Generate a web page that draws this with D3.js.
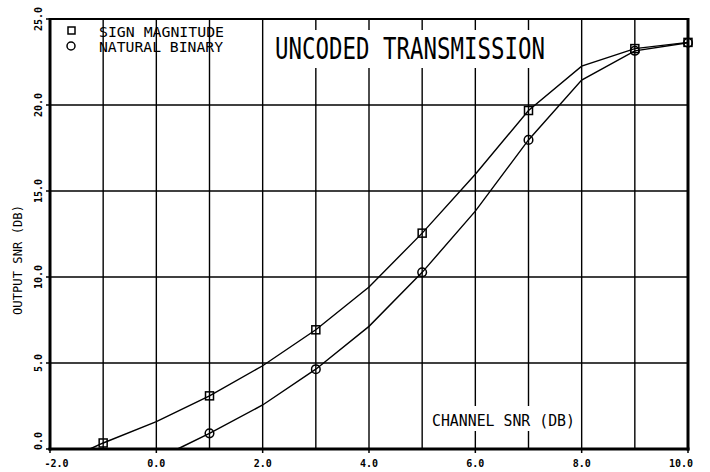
<!DOCTYPE html>
<html lang="en">
<head>
<meta charset="utf-8" />
<title>uncoded transmission</title>
<style>
  * {margin:0; padding:0;}
  body {background:#fff;}
  text {font-family:"DejaVu Sans Mono", monospace; fill:#000;}
</style>
</head>
<body>
<div id="viz"></div>
<script src="https://cdn.jsdelivr.net/npm/d3@7"></script>
<script>
// tick labels and grid positions
var xTicks = [-2, 0, 2, 4, 6, 8, 10];
var yTicks = [0, 5, 10, 15, 20, 25];
var xGrid = [-1, 0, 1, 2, 3, 4, 5, 6, 7, 8, 9];
var yGrid = [5, 10, 15, 20];

// sign magnitude curve (squares)
var signX = [-1.25, -1, 0, 1, 2, 3, 4, 5, 6, 7, 8, 9, 10];
var signY = [0, 0.35, 1.59, 3.09, 4.84, 6.93, 9.42, 12.55, 15.97, 19.68, 22.26, 23.28, 23.64];
var signMarkX = [-1, 1, 3, 5, 7, 9, 10];

// natural binary curve (circles)
var natX = [0.4, 1, 2, 3, 4, 5, 6, 7, 8, 9, 10];
var natY = [0, 0.91, 2.56, 4.64, 7.13, 10.27, 13.83, 17.97, 21.45, 23.15, 23.62];
var natMarkX = [1, 3, 5, 7, 9, 10];

var w = 710, h = 472;
var svg = d3.select("#viz").append("svg").attr("width", w).attr("height", h);

var x = d3.scaleLinear().domain([-2, 10]).range([50, 688]);
var y = d3.scaleLinear().domain([0, 25]).range([449, 19]);

// grid
svg.selectAll(".vg").data(xGrid).enter().append("line")
    .attr("x1", function(d){return x(d)}).attr("x2", function(d){return x(d)})
    .attr("y1", y(25)).attr("y2", y(0))
    .style("stroke", "#000").style("stroke-width", 1.4);
svg.selectAll(".hg").data(yGrid).enter().append("line")
    .attr("x1", x(-2)).attr("x2", x(10))
    .attr("y1", function(d){return y(d)}).attr("y2", function(d){return y(d)})
    .style("stroke", "#000").style("stroke-width", 1.4);

// white boxes behind title and x label (they blank the grid)
svg.append("rect").attr("x", 266).attr("y", 30).attr("width", 294).attr("height", 38).style("fill", "#fff");
svg.append("rect").attr("x", 425).attr("y", 406).attr("width", 152).attr("height", 25).style("fill", "#fff");

// curves
var line = d3.line().x(function(d){return x(d[0])}).y(function(d){return y(d[1])});
function pairs(xs, ys){ return xs.map(function(v, i){return [v, ys[i]];}); }
var signData = pairs(signX, signY), natData = pairs(natX, natY);
[signData, natData].forEach(function(dat){
    svg.append("path").attr("d", line(dat))
        .style("fill", "none").style("stroke", "#000").style("stroke-width", 1.4);
});

function yAt(dat, xv){ return dat.filter(function(p){return p[0] === xv;})[0][1]; }

svg.selectAll(".sq").data(signMarkX).enter().append("rect")
    .attr("x", function(d){return x(d) - 4}).attr("y", function(d){return y(yAt(signData, d)) - 4})
    .attr("width", 8).attr("height", 8)
    .style("fill", "none").style("stroke", "#000").style("stroke-width", 1.5);
svg.selectAll(".ci").data(natMarkX).enter().append("circle")
    .attr("cx", function(d){return x(d)}).attr("cy", function(d){return y(yAt(natData, d))})
    .attr("r", 4.3)
    .style("fill", "none").style("stroke", "#000").style("stroke-width", 1.5);

// frame
svg.append("line").attr("x1", x(-2)).attr("x2", x(10)).attr("y1", y(25)).attr("y2", y(25))
    .style("stroke", "#000").style("stroke-width", 2);
svg.append("line").attr("x1", x(-2)).attr("x2", x(-2)).attr("y1", y(25) - 1).attr("y2", y(0) + 1.5)
    .style("stroke", "#000").style("stroke-width", 3);
svg.append("line").attr("x1", x(10)).attr("x2", x(10)).attr("y1", y(25) - 1).attr("y2", y(0) + 1.5)
    .style("stroke", "#000").style("stroke-width", 3);
svg.append("line").attr("x1", x(-2) - 1.5).attr("x2", x(10) + 1.5).attr("y1", y(0)).attr("y2", y(0))
    .style("stroke", "#000").style("stroke-width", 3);

// axis ticks
svg.selectAll(".xt").data(xTicks).enter().append("line")
    .attr("x1", function(d){return x(d)}).attr("x2", function(d){return x(d)})
    .attr("y1", y(0)).attr("y2", y(0) + 4)
    .style("stroke", "#000").style("stroke-width", 1.5);
svg.selectAll(".yt").data(yTicks).enter().append("line")
    .attr("x1", x(-2) - 4).attr("x2", x(-2))
    .attr("y1", function(d){return y(d)}).attr("y2", function(d){return y(d)})
    .style("stroke", "#000").style("stroke-width", 1.5);

// tick labels
svg.selectAll(".xl").data(xTicks).enter().append("text")
    .attr("x", function(d){return x(d)}).attr("y", 467)
    .attr("dx", function(d, i){return i === 0 ? 6.5 : (i === xTicks.length - 1 ? -7 : 0)})
    .attr("text-anchor", "middle")
    .style("font-size", "10px").style("font-weight", "bold")
    .text(function(d){return d.toFixed(1)});
svg.selectAll(".yl").data(yTicks).enter().append("text")
    .attr("transform", function(d, i){
        var yy = y(d) - (i === 0 ? 8 : 0);
        return "translate(42," + yy + ") rotate(-90)";})
    .attr("text-anchor", "middle")
    .style("font-size", "10px").style("font-weight", "bold")
    .text(function(d){return d.toFixed(1)});

// axis titles
svg.append("text").attr("transform", "translate(22,260) rotate(-90)")
    .attr("text-anchor", "middle").attr("textLength", 110).attr("lengthAdjust", "spacingAndGlyphs")
    .style("font-size", "12px").text("OUTPUT SNR (DB)");
svg.append("text").attr("x", 432).attr("y", 426)
    .attr("textLength", 143).attr("lengthAdjust", "spacingAndGlyphs")
    .style("font-size", "15px").text("CHANNEL SNR (DB)");

// title
svg.append("text").attr("x", 275).attr("y", 59)
    .attr("textLength", 270).attr("lengthAdjust", "spacingAndGlyphs")
    .style("font-size", "30px").text("UNCODED TRANSMISSION");

// legend
svg.append("rect").attr("x", 68).attr("y", 27).attr("width", 7).attr("height", 7)
    .style("fill", "none").style("stroke", "#000").style("stroke-width", 1.5);
svg.append("circle").attr("cx", 71).attr("cy", 46).attr("r", 4)
    .style("fill", "none").style("stroke", "#000").style("stroke-width", 1.5);
svg.append("text").attr("x", 99).attr("y", 37)
    .attr("textLength", 125).attr("lengthAdjust", "spacingAndGlyphs")
    .style("font-size", "13.5px").text("SIGN MAGNITUDE");
svg.append("text").attr("x", 99).attr("y", 52)
    .attr("textLength", 124).attr("lengthAdjust", "spacingAndGlyphs")
    .style("font-size", "13.5px").text("NATURAL BINARY");
</script>
</body>
</html>
